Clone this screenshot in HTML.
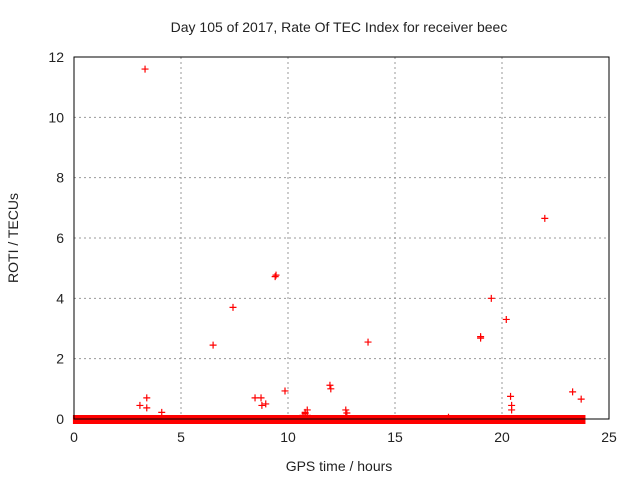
<!DOCTYPE html>
<html><head><meta charset="utf-8"><style>
body{margin:0;background:#fff}
svg text{font-family:"Liberation Sans",sans-serif;font-size:14px;fill:#222}
</style></head><body>
<svg width="640" height="480" xmlns="http://www.w3.org/2000/svg">
<text x="339" y="32" text-anchor="middle">Day 105 of 2017, Rate Of TEC Index for receiver beec</text>
<text x="339" y="471" text-anchor="middle">GPS time / hours</text>
<text transform="translate(18,238) rotate(-90)" text-anchor="middle">ROTI / TECUs</text>
<g id="grid"></g><g id="ticks"></g><g id="marks"></g>
<rect x="74" y="57" width="535" height="362" fill="none" stroke="#000" stroke-width="1"/>
</svg>
<script>
const xTicks=[0,5,10,15,20,25];
const yTicks=[0,2,4,6,8,10,12];
const bandRange=[-0.05,23.9];
const bandValue=[0.0];
const bumpHours=[10.7,10.8,10.9,12.7,17.5];
const bumpValues=[0.12,0.18,0.12,0.1,0.06];
const outHours=[3.32,7.43,6.5,9.44,9.4,13.74,19.5,20.2,19.0,19.0,22.0,23.3,23.7,3.08,3.4,3.4,4.1,8.46,8.74,8.78,8.96,9.86,11.96,12.0,12.7,12.75,20.4,20.45,20.45,10.8,10.9];
const outValues=[11.6,3.7,2.45,4.77,4.72,2.55,4.0,3.3,2.73,2.68,6.65,0.9,0.66,0.45,0.7,0.37,0.22,0.7,0.7,0.45,0.5,0.93,1.12,1.0,0.3,0.2,0.75,0.45,0.3,0.22,0.3];
const X=h=>74+h*(535/25), Y=v=>419-v*(362/12);
const NS='http://www.w3.org/2000/svg';
function mk(t,a,p){const e=document.createElementNS(NS,t);for(const k in a)e.setAttribute(k,a[k]);p.appendChild(e);return e;}
const grid=document.getElementById('grid'),ticks=document.getElementById('ticks'),marks=document.getElementById('marks');
xTicks.forEach(t=>{
 if(t>0&&t<25){const g=mk('line',{x1:X(t),x2:X(t),y1:57,y2:419,stroke:'#999','stroke-dasharray':'2,3'},grid);
 
 }
 const l=mk('text',{x:X(t),y:442,'text-anchor':'middle'},ticks);l.textContent=t;
 
 
});
yTicks.forEach(t=>{
 if(t>0&&t<12){const g=mk('line',{x1:74,x2:609,y1:Y(t),y2:Y(t),stroke:'#999','stroke-dasharray':'2,3'},grid);
 
 }
 const l=mk('text',{x:64,y:Y(t)+5,'text-anchor':'end'},ticks);l.textContent=t;
 
 
});
const band=mk('rect',{x:X(bandRange[0]),y:Y(bandValue[0])-4,width:X(bandRange[1])-X(bandRange[0]),height:9,fill:'#f00'},marks);


function plus(h,v,name){
 const x=X(h),y=Y(v);
 const p=mk('path',{d:`M${x-3.5},${y}H${x+3.5}M${x},${y-3.5}V${y+3.5}`,stroke:'#f00','stroke-width':1.2,fill:'none'},marks);
 
 
}
bumpHours.forEach((h,i)=>plus(h,bumpValues[i],'roti-point'));
outHours.forEach((h,i)=>plus(h,outValues[i],'roti-point'));
</script>
</body></html>
